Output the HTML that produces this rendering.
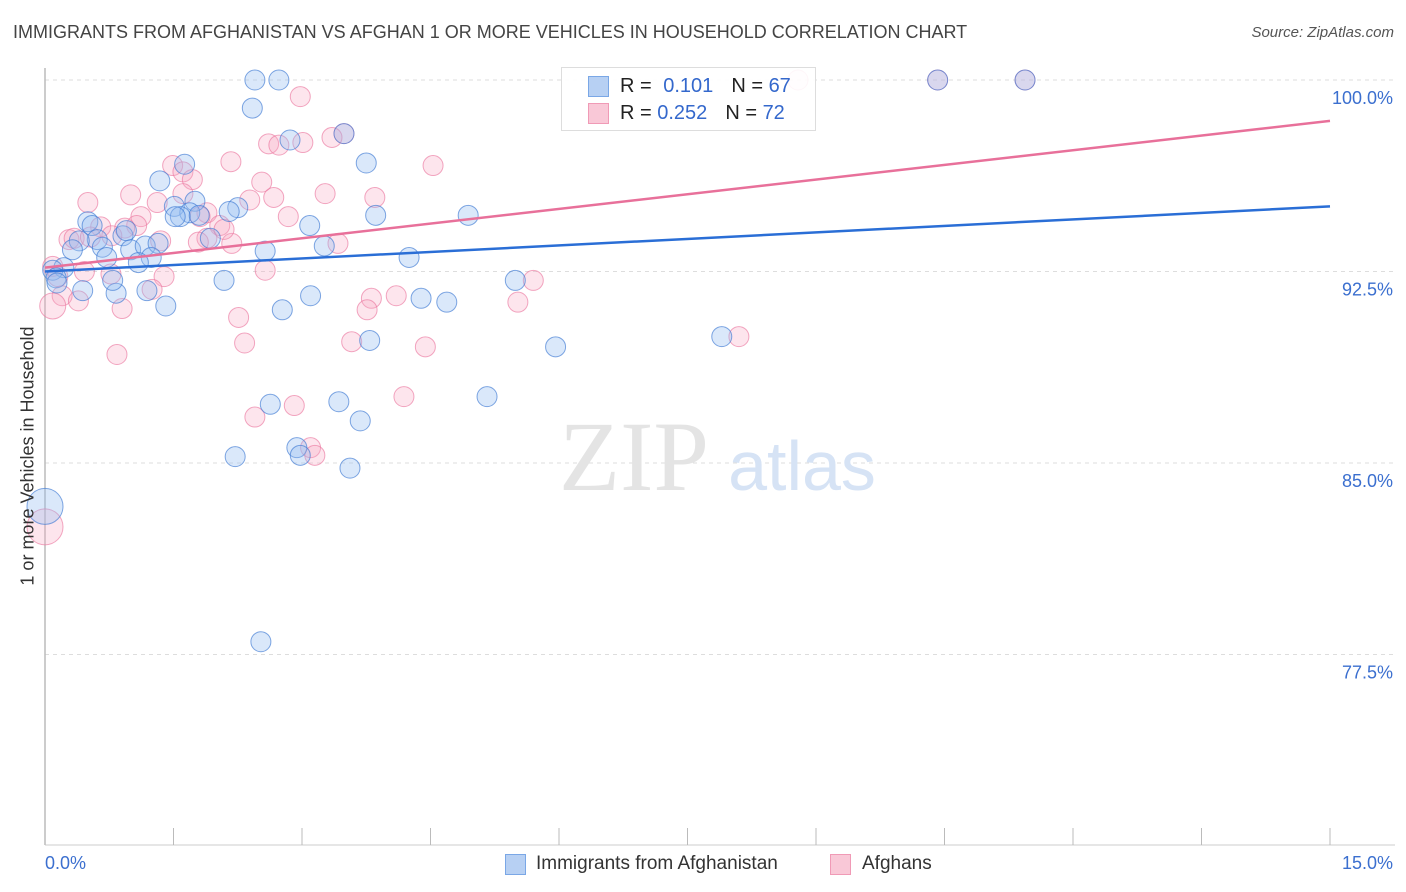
<!DOCTYPE html>
<html><head><meta charset="utf-8">
<style>
body{margin:0;background:#fff;font-family:"Liberation Sans",sans-serif;}
#wrap{position:relative;width:1406px;height:892px;overflow:hidden;}
.t{position:absolute;white-space:nowrap;}
</style></head><body>
<div id="wrap">
<div class="t" style="left:13px;top:22px;font-size:18px;color:#444;">IMMIGRANTS FROM AFGHANISTAN VS AFGHAN 1 OR MORE VEHICLES IN HOUSEHOLD CORRELATION CHART</div>
<div class="t" style="right:12px;top:24px;font-size:15px;color:#555;font-style:italic;">Source: ZipAtlas.com</div>
<svg id="svg" width="1406" height="892" style="position:absolute;left:0;top:0"></svg>
<div class="t" style="left:28px;top:456px;font-size:18px;color:#333;transform:translate(-50%,-50%) rotate(-90deg);">1 or more Vehicles in Household</div>
<div style="position:absolute;left:561px;top:67px;width:253px;height:62px;border:1px solid #ddd;background:rgba(255,255,255,0.9);font-size:20px;">
  <div style="position:absolute;left:26px;top:8px;width:19px;height:19px;background:#b7d0f3;border:1px solid #7aa7e6;"></div>
  <div class="t" style="left:58px;top:7px;color:#222;">R = <span style="color:#3468cc;margin-left:6px">0.101</span><span style="margin-left:18px">N = </span><span style="color:#3468cc">67</span></div>
  <div style="position:absolute;left:26px;top:35px;width:19px;height:19px;background:#f9c8d7;border:1px solid #f09ab6;"></div>
  <div class="t" style="left:58px;top:34px;color:#222;">R = <span style="color:#3468cc">0.252</span><span style="margin-left:18px">N = </span><span style="color:#3468cc">72</span></div>
</div>
<div style="position:absolute;left:505px;top:854px;width:19px;height:19px;background:#b7d0f3;border:1px solid #7aa7e6;"></div>
<div class="t" style="left:536px;top:853px;font-size:19px;color:#333;">Immigrants from Afghanistan</div>
<div style="position:absolute;left:830px;top:854px;width:19px;height:19px;background:#f9c8d7;border:1px solid #f09ab6;"></div>
<div class="t" style="left:862px;top:853px;font-size:19px;color:#333;">Afghans</div>
<div class="t" style="left:45px;top:853px;font-size:18px;color:#3b6fcf;">0.0%</div>
<div class="t" style="right:13px;top:853px;font-size:18px;color:#3b6fcf;">15.0%</div>
</div>
<script>
const yTicks=[100,92.5,85,77.5];
const yTickLabels=["100.0%","92.5%","85.0%","77.5%"];
const blueX=[2.45,2.73,2.42,2.86,3.49,3.75,1.63,1.34,1.75,2.25,2.15,1.51,1.69,1.58,1.80,3.86,4.94,3.09,0.50,0.55,0.91,0.95,0.61,0.40,0.32,0.67,1.00,1.17,1.32,2.57,3.26,1.93,1.24,1.09,0.72,4.25,0.22,0.09,0.13,0.14,0.44,0.83,1.19,0.79,1.41,2.09,3.10,2.77,4.39,4.69,5.49,5.96,7.90,3.79,5.16,3.43,2.63,3.68,2.22,2.94,2.98,3.56,2.52,10.42,11.44,0.0,1.52];
const blueY=[100,100,98.9,97.65,97.9,96.75,96.7,96.05,95.25,95.0,94.85,95.05,94.8,94.65,94.7,94.7,94.7,94.3,94.45,94.3,93.9,94.1,93.75,93.7,93.35,93.45,93.35,93.5,93.6,93.3,93.5,93.8,93.05,92.85,93.05,93.05,92.65,92.55,92.25,92.05,91.75,91.65,91.75,92.15,91.15,92.15,91.55,91.0,91.45,91.3,92.15,89.55,89.95,89.8,87.6,87.4,87.3,86.65,85.25,85.6,85.3,84.8,78.0,100,100,83.3,94.65];
const blueSize=[1,1,1,1,1,1,1,1,1,1,1,1,1,1,1,1,1,1,1,1,1,1,1,1,1,1,1,1,1,1,1,1,1,1,1,1,1,1,1,1,1,1,1,1,1,1,1,1,1,1,1,1,1,1,1,1,1,1,1,1,1,1,1,1,1,1.8,1];
const pinkX=[2.98,8.79,10.42,11.44,3.49,2.61,2.73,3.01,3.35,4.53,2.17,1.49,1.61,1.72,1.00,0.50,1.31,2.53,2.39,2.67,3.27,3.85,1.61,1.89,1.81,1.12,1.07,0.65,0.93,0.28,0.34,2.84,2.04,1.89,2.18,1.79,1.35,3.42,1.39,0.77,0.46,0.09,0.15,0.20,0.39,0.90,1.25,2.26,2.33,0.84,2.57,3.81,3.76,4.10,3.58,4.44,5.52,5.70,8.10,2.45,2.91,4.19,3.10,3.15,0.09,0.0,2.09,0.78,0.53];
const pinkY=[99.35,100,100,100,97.9,97.5,97.45,97.55,97.75,96.65,96.8,96.65,96.4,96.1,95.5,95.2,95.2,96.0,95.3,95.4,95.55,95.4,95.55,94.8,94.65,94.65,94.3,94.25,94.2,93.75,93.8,94.65,94.3,93.8,93.6,93.65,93.7,93.6,92.3,92.4,92.5,92.7,92.3,91.55,91.35,91.05,91.8,90.7,89.7,89.25,92.55,91.45,91.0,91.55,89.75,89.55,91.3,92.15,89.95,86.8,87.25,87.6,85.6,85.3,91.15,82.5,94.15,93.9,93.85];
const pinkSize=[1,1,1,1,1,1,1,1,1,1,1,1,1,1,1,1,1,1,1,1,1,1,1,1,1,1,1,1,1,1,1,1,1,1,1,1,1,1,1,1,1,1,1,1,1,1,1,1,1,1,1,1,1,1,1,1,1,1,1,1,1,1,1,1,1.3,1.8,1,1,1];
const trendX=[0,15];
const blueTrend=[92.5,95.05];
const pinkTrend=[92.65,98.4];

const NS="http://www.w3.org/2000/svg";
const svg=document.getElementById('svg');
const X0=45,X1=1330,Y100=80,PXPER=191.5/7.5;
function sx(v){return X0+(v/15)*(X1-X0);}
function sy(v){return Y100+(100-v)*PXPER;}
function mk(tag,attrs){const e=document.createElementNS(NS,tag);for(const k in attrs)e.setAttribute(k,attrs[k]);svg.appendChild(e);return e;}

yTicks.forEach((t,i)=>{
  const g=mk('line',{x1:X0,x2:1395,y1:sy(t),y2:sy(t),stroke:'#ddd','stroke-dasharray':'4,4'});
  
  
  const tx=mk('text',{x:1393,y:sy(t)+24,'text-anchor':'end','font-size':18,fill:'#3b6fcf','font-family':'Liberation Sans, sans-serif'});
  tx.textContent=yTickLabels[i];
  
  
});
const ax=mk('line',{x1:X0,x2:X0,y1:68,y2:845,stroke:'#bbb','stroke-width':1.5});


const bx=mk('line',{x1:X0,x2:1395,y1:845,y2:845,stroke:'#ccc'});


for(let i=0;i<=10;i++){
  const v=i*1.5;
  const tk=mk('line',{x1:sx(v),x2:sx(v),y1:828,y2:845,stroke:'#bbb'});
  
  
}
const wm=mk('text',{x:634,y:490,'text-anchor':'middle','font-size':100,fill:'#e4e4e4','font-family':'Liberation Serif, serif'});
wm.textContent='ZIP';


const wm2=mk('text',{x:802,y:490,'text-anchor':'middle','font-size':70,fill:'#d6e3f5','font-family':'Liberation Sans, sans-serif'});
wm2.textContent='atlas';



function dots(xs,ys,sz,fill,stroke,name){
  xs.forEach((x,i)=>{
    const c=mk('circle',{cx:sx(x),cy:sy(ys[i]),r:10*sz[i],fill:fill,stroke:stroke,'stroke-width':1});
    
    
  });
}
dots(pinkX,pinkY,pinkSize,'rgba(247,170,195,0.3)','rgba(235,120,160,0.65)','afghans-point');
dots(blueX,blueY,blueSize,'rgba(150,190,240,0.35)','rgba(60,120,210,0.65)','immigrants-point');

const bl=mk('line',{x1:sx(trendX[0]),y1:sy(blueTrend[0]),x2:sx(trendX[1]),y2:sy(blueTrend[1]),stroke:'#2a6ed6','stroke-width':2.5});


const pl=mk('line',{x1:sx(trendX[0]),y1:sy(pinkTrend[0]),x2:sx(trendX[1]),y2:sy(pinkTrend[1]),stroke:'#e8709a','stroke-width':2.5});


</script>
</body></html>
